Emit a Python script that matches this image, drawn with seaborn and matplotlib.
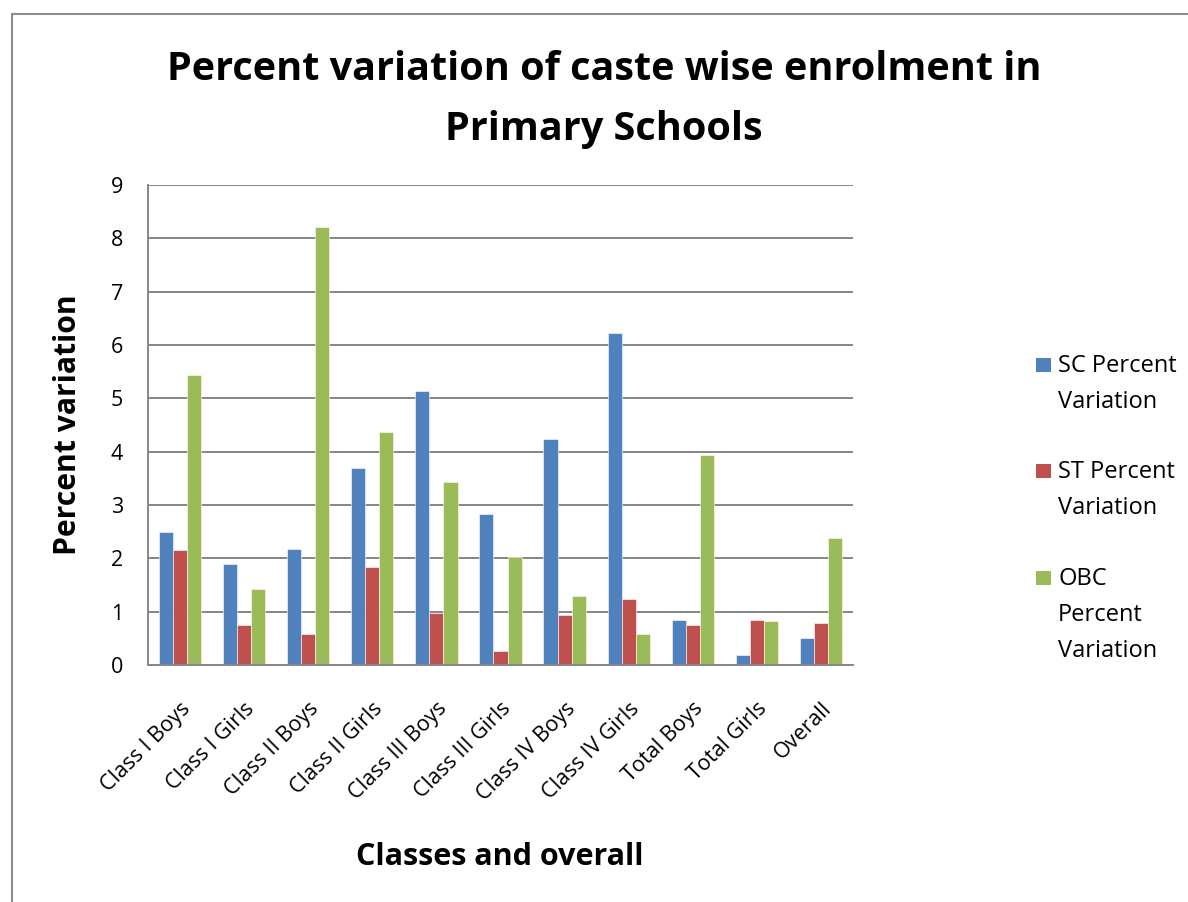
import numpy as np
import pandas as pd
import matplotlib
matplotlib.use("Agg")
import matplotlib.pyplot as plt
from matplotlib.patches import Rectangle
import seaborn as sns

# ── data ──────────────────────────────────────────────────────────────────────
classes = ["Class I Boys", "Class I Girls", "Class II Boys", "Class II Girls",
           "Class III Boys", "Class III Girls", "Class IV Boys", "Class IV Girls",
           "Total Boys", "Total Girls", "Overall"]
sc_var  = [2.50, 1.89, 2.18, 3.69, 5.14, 2.83, 4.24, 6.22, 0.84, 0.18, 0.51]
st_var  = [2.16, 0.75, 0.58, 1.84, 0.98, 0.26, 0.93, 1.23, 0.75, 0.84, 0.79]
obc_var = [5.44, 1.43, 8.22, 4.36, 3.43, 2.02, 1.29, 0.58, 3.94, 0.83, 2.38]
series  = ["SC Percent Variation", "ST Percent Variation", "OBC Percent Variation"]
legend_lines = [["SC Percent", "Variation"],
                ["ST Percent", "Variation"],
                ["OBC", "Percent", "Variation"]]
colors  = ["#4F81BD", "#C0504D", "#9BBB59"]
y_ticks = list(range(0, 10))

df = pd.DataFrame({
    "cls": classes * 3,
    "val": sc_var + st_var + obc_var,
    "series": np.repeat(series, len(classes)),
})

sns.set_style("white")
plt.rcParams["font.family"] = ["Open Sans", "DejaVu Sans"]
plt.rcParams["text.color"] = "black"
plt.rcParams["xtick.labelcolor"] = "black"
plt.rcParams["ytick.labelcolor"] = "black"

W, H = 1188, 902
fig = plt.figure(figsize=(W / 100, H / 100), dpi=100)
ax = fig.add_axes([148 / W, 1 - 665 / H, 705 / W, 480 / H])

GRID = "#868686"
sns.barplot(data=df, x="cls", y="val", hue="series", palette=colors,
            width=0.66, saturation=1, edgecolor="white", linewidth=0.4,
            legend=False, ax=ax)

ax.set_xlim(-0.5, len(classes) - 0.5)
ax.set_ylim(0, 9)
ax.set_yticks(y_ticks)
ax.yaxis.grid(True, color=GRID, lw=1.4)
ax.set_axisbelow(True)
for s in ["top", "right"]:
    ax.spines[s].set_visible(False)
for s in ["left", "bottom"]:
    ax.spines[s].set_color(GRID)
    ax.spines[s].set_linewidth(1.4)

# category boundary ticks (Excel style)
ax.set_xticks(np.arange(-0.5, len(classes)), minor=True)
ax.tick_params(axis="x", which="minor", length=6, width=1.4, color=GRID, direction="out")
ax.tick_params(axis="x", which="major", length=0, pad=24)
ax.tick_params(axis="y", length=6, width=1.4, color=GRID, direction="out",
               labelsize=15.5, pad=12)
ax.set_xticks(range(len(classes)))
ax.set_xticklabels(classes, rotation=45, ha="right", va="top",
                   rotation_mode="anchor", fontsize=15.5)

ax.set_xlabel("")
ax.set_ylabel("")
fig.text(68 / W, 1 - 425 / H, "Percent variation", rotation=90,
         ha="center", va="center", fontsize=21.7, fontweight="bold")
fig.text(500 / W, 1 - 857 / H, "Classes and overall",
         ha="center", va="center", fontsize=22, fontweight="bold")

fig.text(604 / W, 1 - 80 / H, "Percent variation of caste wise enrolment in",
         ha="center", va="baseline", fontsize=28.5, fontweight="bold")
fig.text(604 / W, 1 - 140 / H, "Primary Schools",
         ha="center", va="baseline", fontsize=28.5, fontweight="bold")

# legend
first_base = [372, 478, 585]
for lines, col, yb in zip(legend_lines, colors, first_base):
    fig.add_artist(Rectangle((1036 / W, 1 - yb / H), 15 / W, 14 / H,
                             transform=fig.transFigure, facecolor=col,
                             edgecolor="none"))
    for k, line in enumerate(lines):
        fig.text(1058 / W, 1 - (yb + 36 * k) / H, line, ha="left",
                 va="baseline", fontsize=17)

# outer chart frame
fig.add_artist(Rectangle((12 / W, -0.1), 1.2, 1 - 14 / H + 0.1,
                         transform=fig.transFigure, fill=False,
                         edgecolor="#8c8c8c", lw=1.5))

fig.savefig("out.png", dpi=100)
